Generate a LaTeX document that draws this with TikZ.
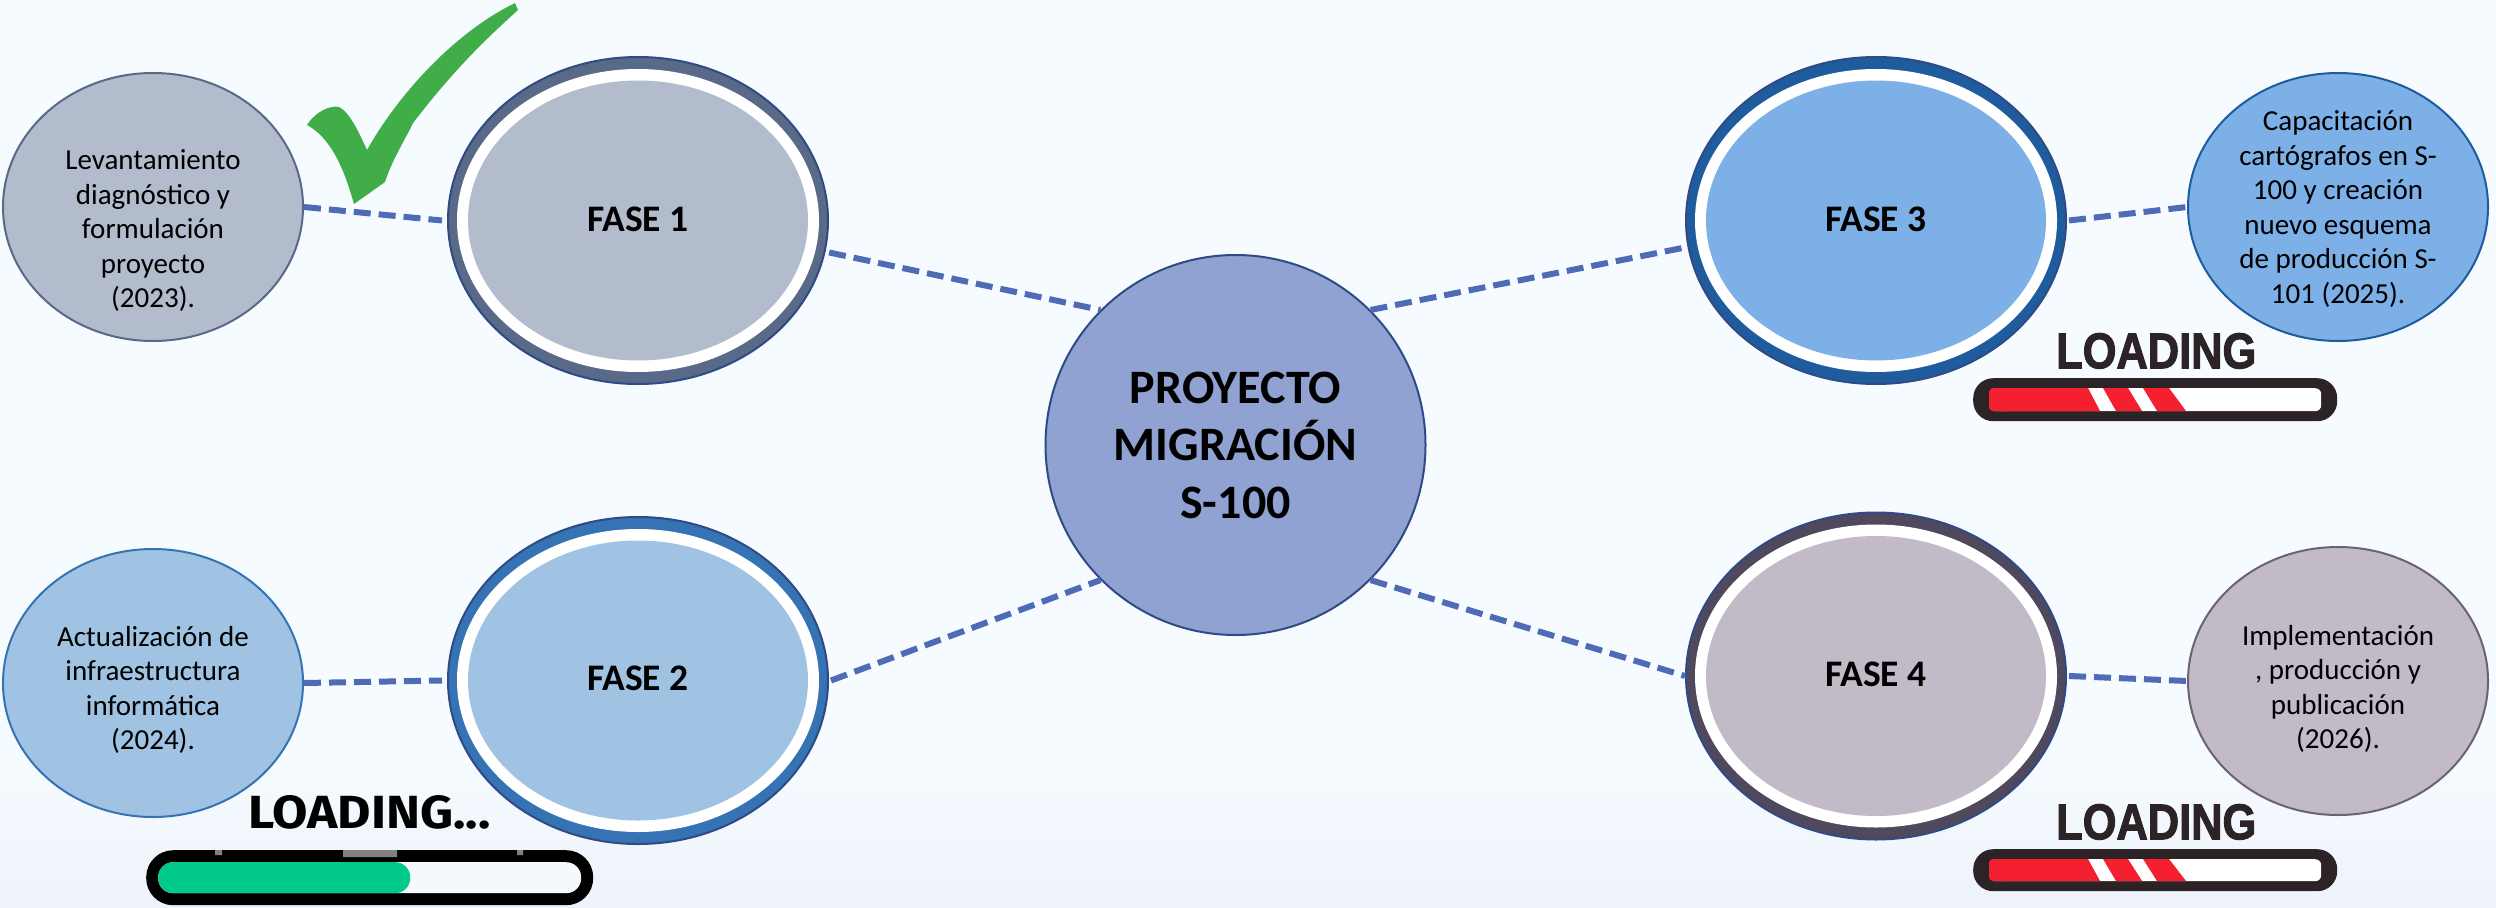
\documentclass[tikz,border=0pt]{standalone}
\usepackage{fontspec}
\usepackage{graphicx}
\usetikzlibrary{shapes.geometric}
\setmainfont{Carlito}
\newfontfamily\barfont{Fira Sans}
\newfontfamily\heavyfont[BoldFeatures={FakeBold=2.2}]{Liberation Sans}
\definecolor{bgtop}{HTML}{F6FBFF}
\definecolor{bgbot}{HTML}{EEF3FB}
\definecolor{dashblue}{HTML}{4F6BB5}
\definecolor{navy}{HTML}{2F4A85}
\definecolor{fillA}{HTML}{B3BCCC}
\definecolor{ringA}{HTML}{586A88}
\definecolor{fillB}{HTML}{A0C3E3}
\definecolor{ringB}{HTML}{3573B4}
\definecolor{fillC}{HTML}{7DB0E6}
\definecolor{ringC}{HTML}{1F5C9E}
\definecolor{fillD}{HTML}{C2BAC6}
\definecolor{ringD}{HTML}{50485C}
\definecolor{hub}{HTML}{8FA2D2}
\definecolor{barink}{HTML}{2B2326}
\definecolor{barred}{HTML}{F5202F}
\definecolor{bargreen}{HTML}{00C98B}
\definecolor{check}{HTML}{41AD49}
\tikzset{
  x=1pt,y=-1pt,
  conn/.style={draw=dashblue,line width=6pt,dash pattern=on 17pt off 8pt},
  phase/.style={ellipse,minimum width=380pt,minimum height=327pt,inner sep=0pt,line width=2pt,draw=navy},
  phasewhite/.style={ellipse,minimum width=362pt,minimum height=303pt,inner sep=0pt,fill=white},
  phasecore/.style={ellipse,minimum width=340pt,minimum height=280pt,inner sep=0pt,font=\fontsize{37.5}{45}\selectfont\bfseries,text=black},
  detail/.style={ellipse,minimum width=300pt,minimum height=268pt,inner sep=0pt,line width=2pt},
  detailtext/.style={align=center,inner sep=0pt,font=\fontsize{29}{34.5}\selectfont,text=black},
  hubnode/.style={circle,minimum size=380pt,inner sep=0pt,fill=hub,draw=navy,line width=2pt,align=center,font=\fontsize{48}{57.5}\selectfont\bfseries,text=black},
  barbox/.style={rectangle,inner sep=0pt,anchor=north west},
}
\begin{document}
\begin{tikzpicture}
\useasboundingbox (0,0) rectangle (2496,907);
\fill[bgtop] (0,0) rectangle (2496,760);
\fill[top color=bgtop,bottom color=bgbot] (0,760) rectangle (2496,907);

% connectors, drawn first so that the nodes cover their ends
\coordinate (hubc) at (1235.5,445);
\node[hubnode] (hub) at (hubc) {PROYECTO\\MIGRACIÓN\\S-100};

\node[phase,fill=ringA] (f1) at (638,220.5) {};
\node[phasewhite] (w1) at (f1) {};
\node[phasecore,fill=fillA] (c1) at (f1) {\raisebox{3pt}{FASE 1}};

\node[phase,fill=ringB] (f2) at (638,680.5) {};
\node[phasewhite] (w2) at (f2) {};
\node[phasecore,fill=fillB] (c2) at (f2) {\raisebox{4pt}{FASE 2}};

\node[phase,fill=ringC] (f3) at (1876,220.5) {};
\node[phasewhite] (w3) at (f3) {};
\node[phasecore,fill=fillC] (c3) at (f3) {\raisebox{3pt}{FASE 3}};

\node[phase,fill=ringD] (f4) at (1876,676) {};
\node[phasewhite] (w4) at (f4) {};
\node[phasecore,fill=fillD] (c4) at (f4) {\raisebox{4pt}{FASE 4}};

\node[detail,fill=fillA,draw=ringA] (s1) at (153,207) {};
\node[detail,fill=fillB,draw=ringB] (s2) at (153,683) {};
\node[detail,fill=fillC,draw=ringC] (s3) at (2338,207) {};
\node[detail,fill=fillD,draw=ringD!85!white] (s4) at (2338,681) {};

\node[detailtext] (t1) at (153,231) {Levantamiento\\diagnóstico y\\formulación\\proyecto\\(2023).};
\node[detailtext] (t2) at (153,690) {Actualización de\\infraestructura\\informática\\(2024).};
\node[detailtext] (t3) at (2338,209) {Capacitación\\cartógrafos en S-\\100 y creación\\nuevo esquema\\de producción S-\\101 (2025).};
\node[detailtext] (t4) at (2338,689) {Implementación\\, producción y\\publicación\\(2026).};

\draw[conn] (s1.east) -- ([xshift=-5pt]f1.west);
\draw[conn] ([xshift=4pt,yshift=1pt]f1.-10) -- (hub.135);
\draw[conn] (s2.east) -- ([xshift=-5pt]f2.west);
\draw[conn] ([xshift=2pt]f2.east) -- (hub.225);
\draw[conn] (hub.45) -- (f3.188.4);
\draw[conn] ([xshift=2pt]f3.east) -- (s3.west);
\draw[conn] (hub.-45) -- (f4.west);
\draw[conn] ([xshift=2pt]f4.east) -- (s4.west);

% check mark
\fill[check] (515,3) -- (518,10)
  .. controls (494,32) and (459,63) .. (413,123)
  .. controls (405,140) and (392,160) .. (385,182)
  -- (354,204)
  .. controls (347,180) and (335,140) .. (307,125)
  .. controls (315,112) and (330,105) .. (339,107)
  .. controls (350,112) and (360,135) .. (367,150)
  .. controls (395,100) and (450,35) .. (515,3) -- cycle;

% green loading bar
\node[barbox,fill=black,rounded corners=27pt,minimum width=447pt,minimum height=55pt] (gb) at (146,850) {};
\node[barbox,fill=bgbot!60!white,rounded corners=15pt,minimum width=423pt,minimum height=31pt] (gi) at (158,862) {};
\node[barbox,fill=bargreen,rounded corners=15pt,minimum width=252pt,minimum height=31pt] (gf) at (158,862) {};
\fill[gray] (215,850) rectangle (222,855) (343,850) rectangle (397,857) (517,850) rectangle (523,855);
\node[inner sep=0pt,anchor=north west] (gt) at (248,795) {\resizebox{242pt}{33pt}{\barfont\bfseries LOADING...}};

% red loading bar, phase 3
\node[barbox,fill=barink,rounded corners=20pt,minimum width=364pt,minimum height=43pt] (rb1) at (1973,378) {};
\node[barbox,fill=white,rounded corners=6pt,minimum width=332pt,minimum height=23pt] (ri1) at (1989,388) {};
\fill[barred,rounded corners=4pt] (1989,388) rectangle (2010,411);
\fill[barred] (2000,388) -- (2088,388) -- (2100,411) -- (2000,411) -- cycle
  (2103,388) -- (2128,388) -- (2142,411) -- (2116,411) -- cycle
  (2143,388) -- (2169,388) -- (2186,411) -- (2157,411) -- cycle;
\node[inner sep=0pt,anchor=north west,text=barink] (rt1) at (2056,333) {\resizebox{200pt}{35pt}{\heavyfont\bfseries LOADING}};

% red loading bar, phase 4
\node[barbox,fill=barink,rounded corners=20pt,minimum width=364pt,minimum height=42pt] (rb2) at (1973,849) {};
\node[barbox,fill=white,rounded corners=6pt,minimum width=332pt,minimum height=22pt] (ri2) at (1989,859) {};
\fill[barred,rounded corners=4pt] (1989,859) rectangle (2010,881);
\fill[barred] (2000,859) -- (2088,859) -- (2100,881) -- (2000,881) -- cycle
  (2103,859) -- (2128,859) -- (2142,881) -- (2116,881) -- cycle
  (2143,859) -- (2169,859) -- (2186,881) -- (2157,881) -- cycle;
\node[inner sep=0pt,anchor=north west,text=barink] (rt2) at (2056,804) {\resizebox{200pt}{35pt}{\heavyfont\bfseries LOADING}};
\end{tikzpicture}
\end{document}
